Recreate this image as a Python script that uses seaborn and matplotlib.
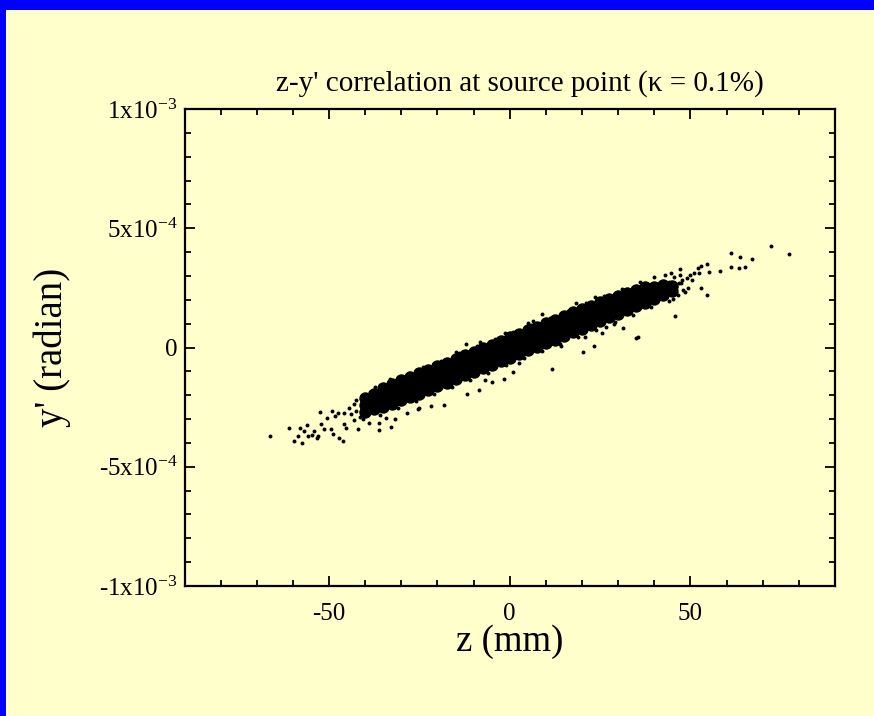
import matplotlib
matplotlib.use("Agg")
import matplotlib.pyplot as plt
from matplotlib.patches import Rectangle
from matplotlib.ticker import MultipleLocator
import seaborn as sns
import pandas as pd

# ---------------- data (z in mm, y' in units of 1e-4 rad) ----------------
# dense core of the distribution (drawn with larger dots)
z_core = ([-40] * 3 + [-37.5] * 3 + [-35] * 4 + [-32.5] * 4 + [-30] * 4 + [-27.5] * 4
          + [-25] * 4 + [-22.5] * 4 + [-20] * 4 + [-17.5] * 4 + [-15] * 4 + [-12.5] * 4
          + [-10] * 4 + [-7.5] * 4 + [-5] * 4 + [-2.5] * 4 + [0] * 4 + [2.5] * 4
          + [5] * 4 + [7.5] * 4 + [10] * 4 + [12.5] * 4 + [15] * 4 + [17.5] * 4
          + [20] * 4 + [22.5] * 4 + [25] * 4 + [27.5] * 4 + [30] * 4 + [32.5] * 4
          + [35] * 4 + [37.5] * 4 + [40] * 3 + [42.5] * 3 + [45] * 2)
yp_core = [-2.70, -2.40, -2.12,
           -2.58, -2.27, -1.97,
           -2.50, -2.22, -1.95, -1.70,
           -2.36, -2.08, -1.80, -1.55,
           -2.22, -1.93, -1.66, -1.38,
           -2.06, -1.78, -1.51, -1.24,
           -1.93, -1.64, -1.36, -1.08,
           -1.77, -1.49, -1.21, -0.93,
           -1.62, -1.34, -1.06, -0.78,
           -1.48, -1.19, -0.91, -0.63,
           -1.32, -1.04, -0.76, -0.48,
           -1.17, -0.89, -0.61, -0.33,
           -1.03, -0.74, -0.46, -0.18,
           -0.87, -0.59, -0.31, -0.03,
           -0.72, -0.44, -0.16, 0.12,
           -0.57, -0.29, -0.01, 0.27,
           -0.42, -0.14, 0.14, 0.42,
           -0.27, 0.01, 0.29, 0.57,
           -0.12, 0.16, 0.44, 0.72,
           0.03, 0.31, 0.59, 0.87,
           0.18, 0.46, 0.74, 1.02,
           0.33, 0.61, 0.89, 1.17,
           0.48, 0.76, 1.04, 1.32,
           0.63, 0.91, 1.19, 1.47,
           0.79, 1.06, 1.34, 1.61,
           0.95, 1.22, 1.48, 1.75,
           1.10, 1.37, 1.63, 1.89,
           1.26, 1.52, 1.77, 2.02,
           1.42, 1.67, 1.91, 2.15,
           1.57, 1.82, 2.05, 2.28,
           1.72, 1.95, 2.18, 2.40,
           1.88, 2.10, 2.32, 2.52,
           2.05, 2.30, 2.52,
           2.20, 2.42, 2.62,
           2.35, 2.58]

# individual (sparser) points around the core and in the tails
z_pts = [-66.4, -61.2, -58.1, -59.8, -57.6, -58.7, -57.0, -56.2, -55.9, -54.8,
         -54.2, -53.4, -53.1, -52.3, -51.5, -52.6, -50.6, -49.5, -49.0, -47.3,
         -46.2, -49.3, -48.4, -47.6, -45.9, -45.4, -42.6, -42.1, -43.2, -39.0,
         -36.2, -36.2, -32.9, -34.3, -31.8, -28.5, -25.5, -38.7, -37.4, -35.1,
         72.3, 77.2, 61.1, 63.6, 66.9, 61.3, 63.5, 65.0, 58.2, 54.5,
         53.0, 52.1, 55.1, 52.8, 54.7, 45.8, 45.2, 49.3, 50.4, 50.9,
         47.0, 44.5, 34.8, 35.4, 31.4, 28.8, 25.5, 23.2, 20.8, 20.2,
         26.5, 47.7, 46.8, 48.6, 50.0, 52.3,
         -12.1, -8.1, -15.0, -1.7, 0.8, -8.6, -11.8, 11.7, 14.2, 8.8,
         6.4, 5.1, -1.4, -21.8, -18.1, -25.2, -6.9, -4.9, 2.5, 23.7, 18.2,
         -33, -28, -24, -19, -14, -9, -4, 1, 6, 11, 16, 21, 26, 31, 36, 40, 43,
         -36, -31, -26, -21, -16, -11, -6, -1, 4, 9, 14, 19, 24, 29, 34, 39, 44,
         46, 47.5, 48, 49, 46.5, 44, 45.5, 47,
         -41, -42.5, -43, -44, -41.5, -44.5, -46, -40.5]
yp_pts = [-3.71, -3.37, -3.37, -3.92, -4.00, -3.71, -3.50, -3.25, -3.71, -3.67,
          -3.50, -3.79, -3.71, -3.21, -3.42, -2.70, -2.96, -3.42, -3.63, -3.79,
          -3.92, -2.66, -2.87, -2.75, -3.21, -3.38, -2.20, -3.42, -3.04, -3.17,
          -3.46, -3.17, -3.33, -2.96, -3.00, -2.75, -2.58, -1.87, -1.66, -1.61,
          4.27, 3.93, 3.97, 3.81, 3.70, 3.38, 3.32, 3.38, 3.21, 3.49,
          3.42, 3.35, 3.15, 2.51, 2.19, 1.32, 2.02, 2.48, 2.83, 3.14,
          3.29, 3.14, 0.39, 0.44, 0.83, 0.97, 0.62, 0.08, 0.45, -0.18,
          0.87, 2.83, 2.69, 2.34, 3.04, 3.11,
          0.15, 0.24, -0.17, -1.33, -1.01, -1.78, -1.96, -0.90, 0.06, 1.39,
          1.12, 1.01, 0.60, -2.45, -2.41, -2.52, -1.36, -1.43, -0.66, 2.13, 1.85,
          -1.30, -1.05, -0.80, -0.55, -0.25, 0.05, 0.35, 0.65, 0.95, 1.25, 1.55,
          1.85, 2.15, 2.45, 2.75, 2.95, 3.05,
          -2.85, -2.55, -2.25, -1.95, -1.65, -1.35, -1.05, -0.75, -0.45, -0.15,
          0.15, 0.45, 0.75, 1.05, 1.35, 1.70, 1.95,
          2.55, 2.70, 2.40, 2.90, 2.20, 2.75, 2.95, 3.05,
          -2.50, -2.65, -2.35, -2.80, -2.90, -2.55, -2.75, -3.00]

y_ticks = [-1e-3, -5e-4, 0, 5e-4, 1e-3]
y_tick_labels = ["-1x10$^{-3}$", "-5x10$^{-4}$", "0", "5x10$^{-4}$", "1x10$^{-3}$"]
x_ticks = [-50, 0, 50]
x_tick_labels = ["-50", "0", "50"]

# ---------------- style ----------------
sns.set_style("ticks")
BG = "#FFFFCC"
plt.rcParams.update({
    "font.family": ["Liberation Serif", "DejaVu Serif"],
    "mathtext.fontset": "custom",
    "mathtext.rm": "Liberation Serif",
    "mathtext.it": "Liberation Serif:italic",
    "mathtext.bf": "Liberation Serif:bold",
    "axes.unicode_minus": False,
    "text.color": "black",
    "axes.labelcolor": "black",
    "xtick.color": "black",
    "ytick.color": "black",
})

core = pd.DataFrame({"z": z_core, "yp": [v * 1e-4 for v in yp_core]})
pts = pd.DataFrame({"z": z_pts, "yp": [v * 1e-4 for v in yp_pts]})

fig = plt.figure(figsize=(8.74, 7.16), dpi=100, facecolor=BG)
ax = fig.add_axes([184.5 / 874, 1 - 586 / 716, (835 - 184.5) / 874, (586 - 109) / 716])
ax.set_facecolor(BG)

sns.scatterplot(data=core, x="z", y="yp", s=80, color="black", linewidth=0, ax=ax)
sns.scatterplot(data=pts, x="z", y="yp", s=8, color="black", linewidth=0, ax=ax)

ax.set_xlim(-90, 90)
ax.set_ylim(-1e-3, 1e-3)
ax.set_xticks(x_ticks, labels=x_tick_labels)
ax.set_yticks(y_ticks, labels=y_tick_labels)
ax.xaxis.set_minor_locator(MultipleLocator(10))
ax.yaxis.set_minor_locator(MultipleLocator(1e-4))
ax.tick_params(which="both", direction="in", top=True, right=True, color="black",
               width=1.3)
ax.tick_params(which="major", length=7, labelsize=18, labelcolor="black")
ax.tick_params(axis="x", which="major", pad=12)
ax.tick_params(axis="y", which="major", pad=5)
ax.tick_params(which="minor", length=4)
for sp in ax.spines.values():
    sp.set_linewidth(1.6)
    sp.set_color("black")

ax.set_xlabel("z (mm)", fontsize=26.5, labelpad=0, color="black")
ax.set_ylabel("y' (radian)", fontsize=28, labelpad=20, color="black")
fig.text(520 / 874, 1 - 84 / 716, "z-y' correlation at source point (κ = 0.1%)",
         ha="center", va="center", fontsize=21, color="black")

# blue frame along the left and top edges
fig.patches.append(Rectangle((0, 0), 6 / 874, 1, transform=fig.transFigure,
                             facecolor="#0000FF", edgecolor="none", zorder=10))
fig.patches.append(Rectangle((0, 1 - 10 / 716), 1, 10 / 716, transform=fig.transFigure,
                             facecolor="#0000FF", edgecolor="none", zorder=10))

fig.savefig("out.png", dpi=100, facecolor=BG)
